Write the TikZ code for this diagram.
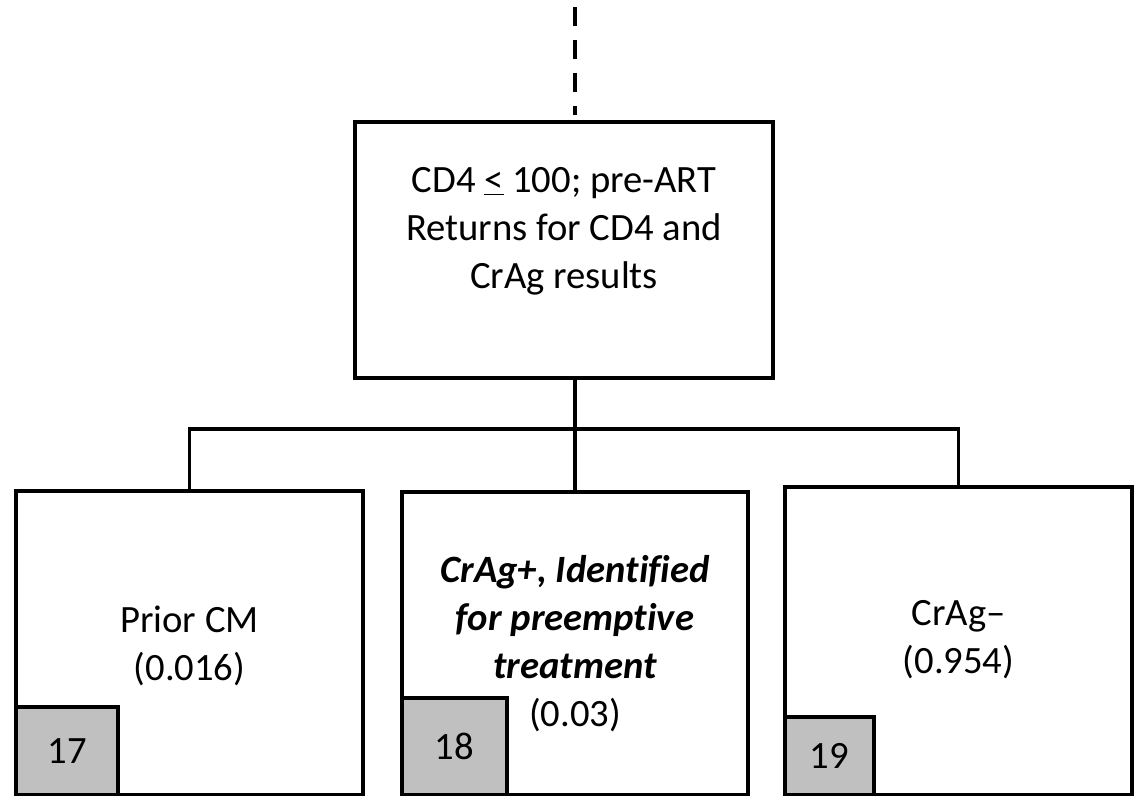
\documentclass[tikz,border=0pt]{standalone}
\usepackage{fontspec}
\setmainfont{Carlito}[Ligatures=NoCommon]
\usepackage{tikz}
\usetikzlibrary{positioning}
\definecolor{taggray}{RGB}{192,192,192}
\tikzset{
  box/.style={draw, line width=2.4pt, fill=white},
  tag/.style={draw, line width=2.4pt, fill=taggray, anchor=south west, inner sep=0pt},
  txt/.style={align=center, font=\fontsize{22}{27.3}\selectfont}
}

\begin{document}
\begin{tikzpicture}[x=0.02cm, y=-0.02cm, line width=2.2pt, font=\fontsize{22}{27.3}\selectfont]
    \useasboundingbox (0,0) rectangle (1136,795);
    % top box
    \node[box, minimum width=8.36cm, minimum height=5.12cm] (root) at (564,250) {};
    \node[txt] (roottxt) at (564,231) {CD4 \underline{<} 100; pre-ART\\Returns for CD4 and\\CrAg results};
    % branches
    \node[box, minimum width=6.94cm, minimum height=6.08cm] (prior) at (189.5,643) {};
    \node[box, minimum width=6.92cm, minimum height=6.06cm] (pos) at (575,643.5) {};
    \node[box, minimum width=6.94cm, minimum height=6.16cm] (neg) at (958.5,641) {};
    \node[txt] (priortxt) at (189.5,646) {Prior CM\\(0.016)};
    \node[txt] (postxt) at (575,644) {\bfseries\itshape CrAg+, Identified\\\bfseries\itshape for preemptive\\\bfseries\itshape treatment\\(0.03)};
    \node[txt] (negtxt) at (958.5,640) {CrAg--\\(0.954)};
    % numbered tags
    \node[tag, minimum width=2.04cm, minimum height=1.76cm] (t17) at (prior.south west) {17};
    \node[tag, minimum width=2.1cm, minimum height=1.94cm] (t18) at (pos.south west) {18};
    \node[tag, minimum width=1.78cm, minimum height=1.56cm] (t19) at (neg.south west) {19};
    % connectors
    \coordinate (tip) at (575,7);
    \coordinate (tipend) at (575,115);
    \coordinate (split) at (575,429);
    \draw[dash pattern=on 0.38cm off 0.28cm] (tip) -- (tipend);
    \draw (root.south -| split) -- (split);
    \draw (prior.north) |- (split) -| (neg.north);
    \draw (split) -- (pos.north);
\end{tikzpicture}
\end{document}
